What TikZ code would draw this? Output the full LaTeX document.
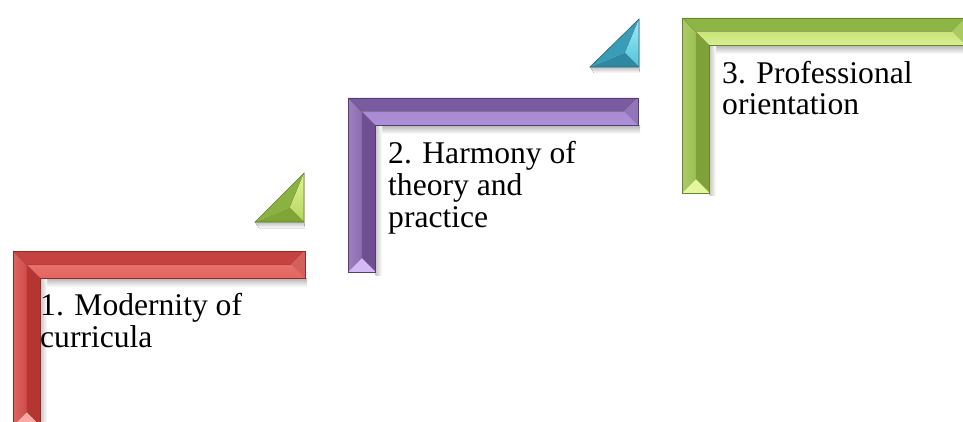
\documentclass[tikz,border=0pt]{standalone}
\usepackage{fontspec}
\setmainfont{Liberation Serif}
\definecolor{rTop}{HTML}{C4423F}\definecolor{rLowA}{HTML}{E8706C}\definecolor{rLowB}{HTML}{F7AAA6}\definecolor{rLowC}{HTML}{E36460}
\definecolor{rEnd}{HTML}{D4605C}\definecolor{rLeft}{HTML}{D24B47}\definecolor{rRight}{HTML}{B53531}\definecolor{rBot}{HTML}{FFA9A5}\definecolor{rEdge}{HTML}{8E2A27}
\definecolor{pTop}{HTML}{7B5BA0}\definecolor{pLowA}{HTML}{A98BD3}\definecolor{pLowB}{HTML}{DCC8F6}\definecolor{pLowC}{HTML}{AD8FD6}
\definecolor{pEnd}{HTML}{9274B8}\definecolor{pLeft}{HTML}{8C6CB2}\definecolor{pRight}{HTML}{6D4F92}\definecolor{pBot}{HTML}{D3BAF5}\definecolor{pEdge}{HTML}{553C74}
\definecolor{gTop}{HTML}{8DB545}\definecolor{gLowA}{HTML}{C9E57A}\definecolor{gLowB}{HTML}{F8FFC4}\definecolor{gLowC}{HTML}{D9EE92}
\definecolor{gEnd}{HTML}{AACB62}\definecolor{gLeft}{HTML}{9CC150}\definecolor{gRight}{HTML}{7EA13A}\definecolor{gBot}{HTML}{E4F69E}\definecolor{gEdge}{HTML}{66862C}
\definecolor{tHyp}{HTML}{3A9CB6}\definecolor{tRightA}{HTML}{9CEBF8}\definecolor{tRightB}{HTML}{55C3DA}\definecolor{tBot}{HTML}{2F88A2}\definecolor{tEdge}{HTML}{22667A}
\definecolor{qHyp}{HTML}{8BB140}\definecolor{qRightA}{HTML}{E2F592}\definecolor{qRightB}{HTML}{B5D45E}\definecolor{qBot}{HTML}{7FA438}\definecolor{qEdge}{HTML}{5E7E26}
% #1 xl, #2 yt, #3 xr, #4 yb, #5 colour prefix
\newcommand\stepL[5]{%
  \coordinate (#5O) at (#1,#2);
  \coordinate (#5M) at ({#1+13.75},{#2+13.75});
  \coordinate (#5I) at ({#1+27.5},{#2+27.5});
  \coordinate (#5R1) at (#3,#2);
  \coordinate (#5RM) at ({#3-13.75},{#2+13.75});
  \coordinate (#5R2) at (#3,{#2+27.5});
  \coordinate (#5B1) at (#1,#4);
  \coordinate (#5BM) at ({#1+13.75},{#4-13.75});
  \coordinate (#5B2) at ({#1+27.5},#4);
  % shadows
  \fill[top color=black!28, bottom color=white] (#5I) rectangle ({#3+2},{#2+36});
  \fill[left color=black!22, right color=white] (#5I) rectangle ({#1+34},{#4+3});
  % faces
  \fill[#5Top] (#5O) -- (#5R1) -- (#5RM) -- (#5M) -- cycle;
  \fill[top color=#5LowA, middle color=#5LowB, bottom color=#5LowC] (#5M) -- (#5RM) -- (#5R2) -- (#5I) -- cycle;
  \fill[#5End] (#5R1) -- (#5R2) -- (#5RM) -- cycle;
  \fill[left color=#5Left!85!white, right color=#5Left] (#5O) -- (#5M) -- (#5BM) -- (#5B1) -- cycle;
  \fill[#5Right] (#5M) -- (#5I) -- (#5B2) -- (#5BM) -- cycle;
  \fill[#5Bot] (#5B1) -- (#5B2) -- (#5BM) -- cycle;
  \draw[facedge, #5Edge] (#5O) -- (#5R1) -- (#5R2) -- (#5I) -- (#5B2) -- (#5B1) -- cycle;
}
% #1 xl, #2 yb, #3 xr, #4 yt, #5 incentre x, #6 incentre y, #7 prefix
\newcommand\stepTri[7]{%
  \coordinate (#7A) at (#1,#2);
  \coordinate (#7B) at (#3,#2);
  \coordinate (#7C) at (#3,#4);
  \coordinate (#7P) at (#5,#6);
  \fill[top color=black!25, bottom color=white] (#7A) -- (#7B) -- ({#3+1},{#2+6}) -- ({#1+4},{#2+6}) -- cycle;
  \fill[#7Hyp] (#7A) -- (#7C) -- (#7P) -- cycle;
  \fill[top color=#7RightA, bottom color=#7RightB] (#7C) -- (#7B) -- (#7P) -- cycle;
  \fill[#7Bot] (#7A) -- (#7B) -- (#7P) -- cycle;
  \draw[facedge, #7Edge] (#7A) -- (#7B) -- (#7C) -- cycle;
}
\tikzset{
  facedge/.style={line width=0.6pt, line join=miter},
  lbl/.style={font=\fontsize{31.6}{31.7}\selectfont, align=left, inner sep=0pt, anchor=base west, text=black}
}
\begin{document}
\begin{tikzpicture}[x=1pt,y=-1pt]
  \useasboundingbox (0,0) rectangle (963,422);
  \begin{scope}
    \clip (0,0) rectangle (963,422);
    \stepL{13}{251}{305}{426}{r}
    \stepL{348}{98}{638}{272}{p}
    \stepL{682}{18}{966}{193}{g}
    \stepTri{255}{222}{304}{173}{289.6}{207.6}{q}
    \stepTri{590}{67}{639}{19}{624.8}{52.8}{t}
  \end{scope}
  % base anchor of a multi-line node lies on its last line
  \node[lbl] (t1) at (40,347) {1. Modernity of\\curricula};
  \node[lbl] (t2) at (388,227) {2. Harmony of\\theory and\\practice};
  \node[lbl] (t3) at (722,115) {3. Professional\\orientation};
\end{tikzpicture}
\end{document}
